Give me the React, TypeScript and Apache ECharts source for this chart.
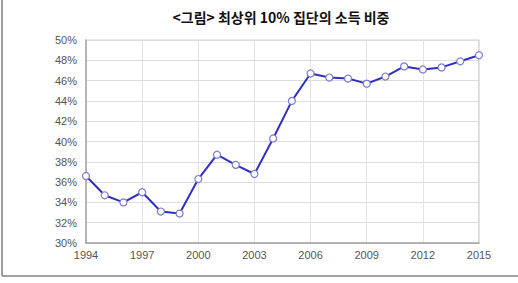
import React, { useEffect, useRef } from "react";
import * as echarts from "echarts";

const title = "<그림> 최상위 10% 집단의 소득 비중";
const years = [
  "1994", "1995", "1996", "1997", "1998", "1999", "2000", "2001", "2002", "2003", "2004",
  "2005", "2006", "2007", "2008", "2009", "2010", "2011", "2012", "2013", "2014", "2015",
];
const shares = [
  36.6, 34.7, 34.0, 35.0, 33.1, 32.9, 36.3, 38.7, 37.7, 36.8, 40.3,
  44.0, 46.7, 46.3, 46.2, 45.7, 46.4, 47.4, 47.1, 47.3, 47.9, 48.5,
];
const yMin = 30;
const yMax = 50;
const yStep = 2;

export default function App() {
  const ref = useRef<HTMLDivElement>(null);
  useEffect(() => {
    if (!ref.current) return;
    const chart = echarts.init(ref.current, undefined, { renderer: "svg" });
    chart.setOption({
      animation: false,
      backgroundColor: "#fff",
      title: {
        text: title,
        left: 276,
        top: 5,
        textAlign: "center",
        textStyle: {
          fontFamily: "Noto Sans CJK KR",
          fontSize: 14,
          fontWeight: "bold",
          color: "#111",
        },
      },
      grid: { left: 86, right: 39, top: 40, bottom: 40 },
      xAxis: {
        type: "category",
        data: years,
        boundaryGap: false,
        axisLine: { show: true, lineStyle: { color: "#a0a0a0", width: 1.5 } },
        axisTick: { show: false },
        axisLabel: {
          interval: 2,
          color: "#555",
          fontFamily: "Liberation Sans",
          fontSize: 11,
          margin: 6,
        },
        splitLine: { show: true, interval: 2, lineStyle: { color: "#e4e4e4" } },
      },
      yAxis: {
        type: "value",
        min: yMin,
        max: yMax,
        interval: yStep,
        axisLine: { show: true, lineStyle: { color: "#a0a0a0", width: 1.5 } },
        axisTick: { show: false },
        axisLabel: {
          formatter: (v: number) => v + "%",
          color: "#555",
          fontFamily: "Liberation Sans",
          fontSize: 11,
          margin: 9,
        },
        splitLine: { show: true, lineStyle: { color: "#dcdcdc" } },
      },
      series: [
        {
          type: "line",
          data: shares,
          symbol: "circle",
          symbolSize: 7,
          lineStyle: { color: "#3030c0", width: 2 },
          itemStyle: { color: "#fff", borderColor: "#7a7ad8", borderWidth: 1.2 },
        },
      ],
      graphic: [
        {
          type: "line",
          shape: { x1: 479, y1: 40, x2: 479, y2: 243 },
          style: { stroke: "#b0b0b0", lineWidth: 1 },
        },
        {
          type: "line",
          shape: { x1: 86, y1: 40, x2: 479, y2: 40 },
          style: { stroke: "#d0d0d0", lineWidth: 1 },
        },
        {
          type: "line",
          shape: { x1: 2, y1: 0, x2: 2, y2: 276 },
          style: { stroke: "#808080", lineWidth: 1.5 },
        },
        {
          type: "line",
          shape: { x1: 2, y1: 276, x2: 518, y2: 276 },
          style: { stroke: "#808080", lineWidth: 1.5 },
        },
      ],
    });
    return () => chart.dispose();
  }, []);
  return (
    <div
      ref={ref}
      style={{ position: "fixed", left: 0, top: 0, width: 518, height: 283 }}
    />
  );
}
